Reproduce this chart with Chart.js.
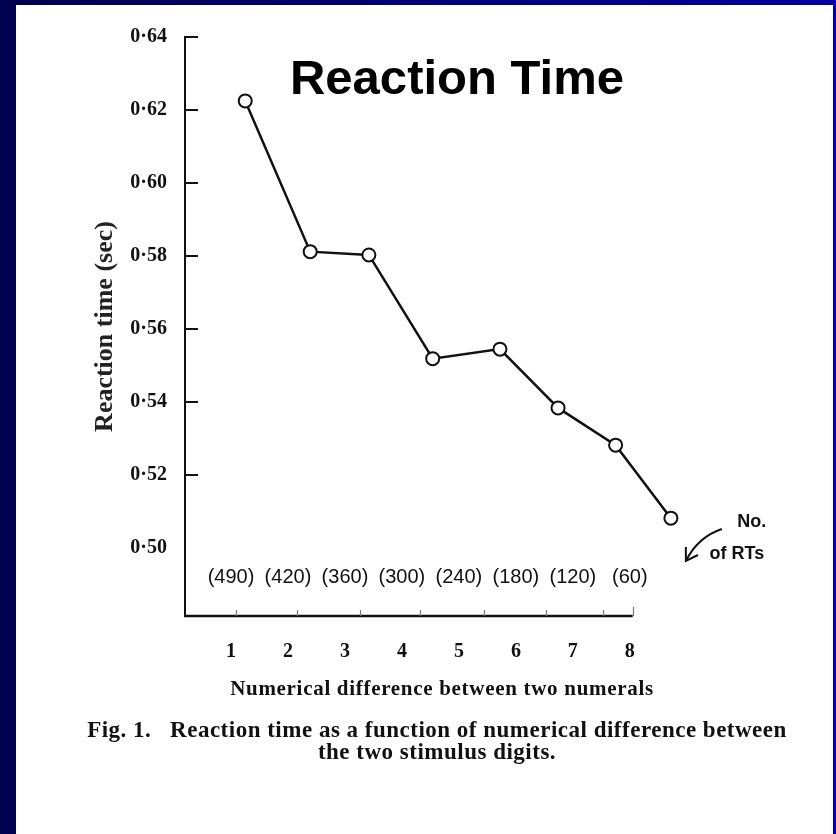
<!DOCTYPE html>
<html>
<head>
<meta charset="utf-8">
<title>Reaction Time</title>
<script src="https://cdn.jsdelivr.net/npm/chart.js@4.4.1/dist/chart.umd.min.js"></script>
<style>
  html, body { margin: 0; padding: 0; }
  body {
    width: 836px; height: 834px; overflow: hidden; position: relative;
    background: linear-gradient(to right, #00004f, #0000a4);
  }
  #panel { position: absolute; left: 16px; top: 5px; right: 3px; bottom: 0; background: #fff; }
  #rtChart { position: absolute; left: 0; top: 0; }
  .heading {
    position: absolute; left: 257px; width: 400px; top: 49px; line-height: 48px;
    text-align: center; color: #000;
    font: bold 49px "Liberation Sans", Arial, sans-serif;
  }
  .serif { position: absolute; text-align: center; color: #111; font-family: "Liberation Serif", "DejaVu Serif", serif; font-weight: bold; }
  .xtitle { left: 192px; width: 500px; top: 675px; font-size: 21px; line-height: 26px; letter-spacing: 0.7px; }
  .caption { left: 40px; width: 794px; top: 719px; font-size: 23px; line-height: 22px; letter-spacing: 0.5px; }
</style>
</head>
<body>
<div id="panel"></div>
<canvas id="rtChart" width="836" height="834"></canvas>
<div class="heading">Reaction Time</div>
<div class="serif xtitle">Numerical difference between two numerals</div>
<div class="serif caption">Fig. 1.&nbsp;&nbsp; Reaction time as a function of numerical difference between<br>the two stimulus digits.</div>
<script>
// numerical difference between the two digits (x categories)
const diffs = [1, 2, 3, 4, 5, 6, 7, 8];
// number of RTs behind each mean
const nRTs = [490, 420, 360, 300, 240, 180, 120, 60];
// where each mean is plotted along the difference axis
const plotX = [1.25, 2.39, 3.42, 4.54, 5.72, 6.74, 7.75, 8.72];
// mean reaction time (sec)
const rtSec = [0.6225, 0.5812, 0.5803, 0.5519, 0.5545, 0.5384, 0.5282, 0.5082];
// y tick labels
const yTicks = [0.50, 0.52, 0.54, 0.56, 0.58, 0.60, 0.62, 0.64];
// small marks along the x axis; the last one is where the axis line stops
const xMarks = [1.09, 2.16, 3.26, 4.32, 5.44, 6.53, 7.53, 8.05];

const serif = '"Liberation Serif", "DejaVu Serif", serif';
const sans = '"Liberation Sans", Arial, sans-serif';

// x axis line, inward ticks, sample counts and the "No. of RTs" note
const figureMarks = {
  id: 'figureMarks',
  beforeDatasetsDraw(chart) {
    const { ctx, chartArea, scales: { x } } = chart;
    const axisEnd = x.getPixelForValue(xMarks[xMarks.length - 1]);
    ctx.save();
    ctx.strokeStyle = '#111';
    ctx.lineWidth = 2.5;
    ctx.beginPath();
    ctx.moveTo(chartArea.left - 1, chartArea.bottom);
    ctx.lineTo(axisEnd, chartArea.bottom);
    ctx.stroke();
    ctx.restore();
  },
  afterDatasetsDraw(chart) {
    const { ctx, chartArea, scales: { x, y } } = chart;
    ctx.save();

    ctx.strokeStyle = '#111';
    ctx.lineWidth = 2;
    yTicks.filter(v => v > 0.5).forEach(v => {
      const py = Math.round(y.getPixelForValue(v));
      ctx.beginPath();
      ctx.moveTo(chartArea.left, py);
      ctx.lineTo(chartArea.left + 13, py);
      ctx.stroke();
    });

    ctx.strokeStyle = '#777';
    ctx.lineWidth = 1.2;
    xMarks.forEach((v, i) => {
      const px = Math.round(x.getPixelForValue(v)) + 0.5;
      ctx.beginPath();
      ctx.moveTo(px, chartArea.bottom);
      ctx.lineTo(px, chartArea.bottom - (i === xMarks.length - 1 ? 9 : 6));
      ctx.stroke();
    });

    const yc = chartArea.bottom - 39;
    ctx.fillStyle = '#111';
    ctx.textAlign = 'center';
    ctx.textBaseline = 'middle';
    ctx.font = '20px ' + sans;
    diffs.forEach((d, i) => ctx.fillText('(' + nRTs[i] + ')', x.getPixelForValue(d), yc));

    const x8 = x.getPixelForValue(diffs[diffs.length - 1]);
    ctx.font = 'bold 18px ' + sans;
    ctx.fillText('No.', x8 + 122, yc - 55);
    ctx.fillText('of RTs', x8 + 107, yc - 23);

    // curved pointer towards the last count
    ctx.strokeStyle = '#111';
    ctx.lineWidth = 2;
    ctx.beginPath();
    ctx.moveTo(x8 + 92, yc - 48);
    ctx.quadraticCurveTo(x8 + 68, yc - 40, x8 + 56, yc - 16);
    ctx.stroke();
    ctx.beginPath();
    ctx.moveTo(x8 + 56, yc - 30);
    ctx.lineTo(x8 + 56, yc - 16);
    ctx.lineTo(x8 + 68, yc - 22);
    ctx.stroke();

    ctx.restore();
  }
};

new Chart(document.getElementById('rtChart'), {
  type: 'line',
  data: {
    datasets: [{
      data: plotX.map((v, i) => ({ x: v, y: rtSec[i] })),
      borderColor: '#111',
      borderWidth: 2.5,
      tension: 0,
      pointRadius: 6.5,
      pointBorderWidth: 2,
      pointBackgroundColor: '#fff',
      pointBorderColor: '#111',
    }]
  },
  options: {
    responsive: false,
    animation: false,
    layout: { padding: { left: 0, top: 37, right: 156, bottom: 0 } },
    plugins: { legend: { display: false }, tooltip: { enabled: false } },
    scales: {
      x: {
        type: 'linear',
        min: 0.193, max: 8.88,
        grid: { display: false, drawTicks: false },
        border: { display: false },
        afterBuildTicks: s => { s.ticks = diffs.map(v => ({ value: v })); },
        afterFit: s => { s.height = 218; },
        ticks: {
          autoSkip: false, maxRotation: 0, padding: 24, color: '#111',
          font: { family: serif, size: 20, weight: 'bold' },
          callback: v => String(v),
        },
      },
      y: {
        min: 0.4814, max: 0.64,
        grid: { display: false, drawTicks: false },
        border: { display: true, color: '#111', width: 2 },
        afterBuildTicks: s => { s.ticks = yTicks.map(v => ({ value: v })); },
        afterFit: s => { s.width = 185; },
        ticks: {
          padding: 18, color: '#111',
          font: { family: serif, size: 20, weight: 'bold' },
          callback: v => v.toFixed(2).replace('.', '·'),
        },
        title: {
          display: true,
          text: 'Reaction time (sec)',
          color: '#222',
          padding: { top: 90, bottom: 0 },
          font: { family: serif, size: 26, weight: 'bold' },
        },
      },
    },
  },
  plugins: [figureMarks],
});
</script>
</body>
</html>
